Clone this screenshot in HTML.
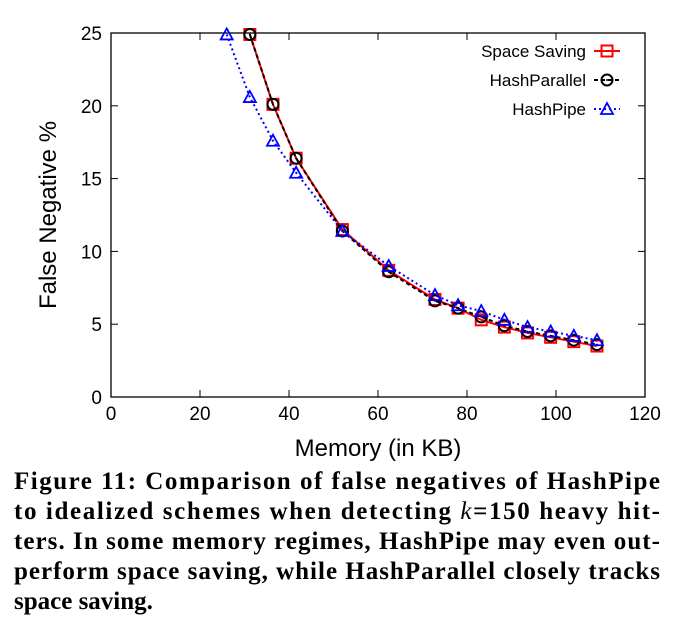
<!DOCTYPE html>
<html><head><meta charset="utf-8"><style>
body{margin:0;background:#fff;width:693px;height:634px;overflow:hidden}
svg{display:block}
.t{font-family:"Liberation Sans",sans-serif;font-size:19px;fill:#000}
.c{font-family:"Liberation Serif",serif;font-weight:bold;font-size:25px;fill:#000}
</style></head><body>
<svg id="chart" width="693" height="634">
<g id="axes"></g><g id="series"></g><g id="legend"></g>
<text class="t" x="378" y="456" text-anchor="middle" style="font-size:24px">Memory (in KB)</text>
<text class="t" transform="translate(56,215) rotate(-90)" text-anchor="middle" style="font-size:24px">False Negative %</text>
<g>
<text class="c" x="14" y="489" textLength="646" lengthAdjust="spacing">Figure 11: Comparison of false negatives of HashPipe</text>
<text class="c" x="14" y="519" textLength="646" lengthAdjust="spacing">to idealized schemes when detecting <tspan font-style="italic" font-weight="normal">k</tspan>=150 heavy hit-</text>
<text class="c" x="14" y="549" textLength="646" lengthAdjust="spacing">ters. In some memory regimes, HashPipe may even out-</text>
<text class="c" x="14" y="579" textLength="646" lengthAdjust="spacing">perform space saving, while HashParallel closely tracks</text>
<text class="c" x="14" y="609">space saving.</text>
</g>
</svg>
<script>
const xTicks=[0,20,40,60,80,100,120];
const yTicks=[0,5,10,15,20,25];
const ssX=[31.2,36.4,41.6,52,62.4,72.8,78,83.2,88.4,93.6,98.8,104,109.2];
const ssY=[24.9,20.1,16.4,11.5,8.7,6.7,6.1,5.3,4.8,4.4,4.1,3.8,3.5];
const hpX=[31.2,36.4,41.6,52,62.4,72.8,78,83.2,88.4,93.6,98.8,104,109.2];
const hpY=[24.9,20.1,16.4,11.4,8.6,6.6,6.1,5.5,4.9,4.5,4.2,3.9,3.6];
const pipeX=[26,31.2,36.4,41.6,52,62.4,72.8,78,83.2,88.4,93.6,98.8,104,109.2];
const pipeY=[24.9,20.6,17.6,15.4,11.4,9.0,7.0,6.3,5.9,5.3,4.8,4.5,4.2,3.9];
const NS='http://www.w3.org/2000/svg';
const X0=111,X1=645,Y0=397,Y1=33;
const sx=v=>X0+(v-0)/120*(X1-X0);
const sy=v=>Y0-(v-0)/25*(Y0-Y1);
function mk(tag,attrs,parent){const e=document.createElementNS(NS,tag);for(const k in attrs)e.setAttribute(k,attrs[k]);parent.appendChild(e);return e;}
const ax=document.getElementById('axes');
const frame=mk('rect',{x:X0,y:Y1,width:X1-X0,height:Y0-Y1,fill:'none',stroke:'#000','stroke-width':1.3},ax);


xTicks.forEach(v=>{
  const x=sx(v);
  mk('line',{x1:x,x2:x,y1:Y0,y2:Y0-7,stroke:'#000'},ax);
  mk('line',{x1:x,x2:x,y1:Y1,y2:Y1+7,stroke:'#000'},ax);
  const t=mk('text',{x:x,y:Y0+23,'text-anchor':'middle',class:'t'},ax);
  t.textContent=v;
  
  
});
yTicks.forEach(v=>{
  const y=sy(v);
  mk('line',{x1:X0,x2:X0+7,y1:y,y2:y,stroke:'#000'},ax);
  mk('line',{x1:X1,x2:X1-7,y1:y,y2:y,stroke:'#000'},ax);
  const t=mk('text',{x:X0-9,y:y+7,'text-anchor':'end',class:'t'},ax);
  t.textContent=v;
  
  
});
const sg=document.getElementById('series');
function marker(type,x,y,color,g){
  if(type==='sq') return mk('rect',{x:x-5.5,y:y-5.5,width:11,height:11,fill:'none',stroke:color,'stroke-width':2},g);
  if(type==='ci'){mk('circle',{cx:x,cy:y,r:1,fill:color},g);return mk('circle',{cx:x,cy:y,r:5.5,fill:'none',stroke:color,'stroke-width':2},g);}
  return mk('path',{d:`M${x},${y-6}L${x+6},${y+5}L${x-6},${y+5}Z`,fill:'none',stroke:color,'stroke-width':1.8},g);
}
function series(xs,ys,color,dash,type,name){
  const g=mk('g',{},sg);
  
  
  const pts=xs.map((v,i)=>sx(v)+','+sy(ys[i])).join(' ');
  mk('polyline',{points:pts,fill:'none',stroke:color,'stroke-width':2,'stroke-dasharray':dash},g);
  xs.forEach((v,i)=>marker(type,sx(v),sy(ys[i]),color,g));
}
series(ssX,ssY,'#f00','none','sq','series-space-saving');
series(hpX,hpY,'#000','4,3','ci','series-hashparallel');
series(pipeX,pipeY,'#00f','2,3','tr','series-hashpipe');
const lg=document.getElementById('legend');
[['Space Saving','#f00','none','sq',51],['HashParallel','#000','4,3','ci',80],['HashPipe','#00f','2,3','tr',109]].forEach(d=>{
  const g=mk('g',{},lg);
  
  
  const t=mk('text',{x:586,y:d[4]+6,'text-anchor':'end',class:'t',style:'font-size:17px'},g);
  t.textContent=d[0];
  mk('line',{x1:594,x2:620,y1:d[4],y2:d[4],stroke:d[1],'stroke-width':2,'stroke-dasharray':d[2]},g);
  marker(d[3],607,d[4],d[1],g);
});
</script>
</body></html>
